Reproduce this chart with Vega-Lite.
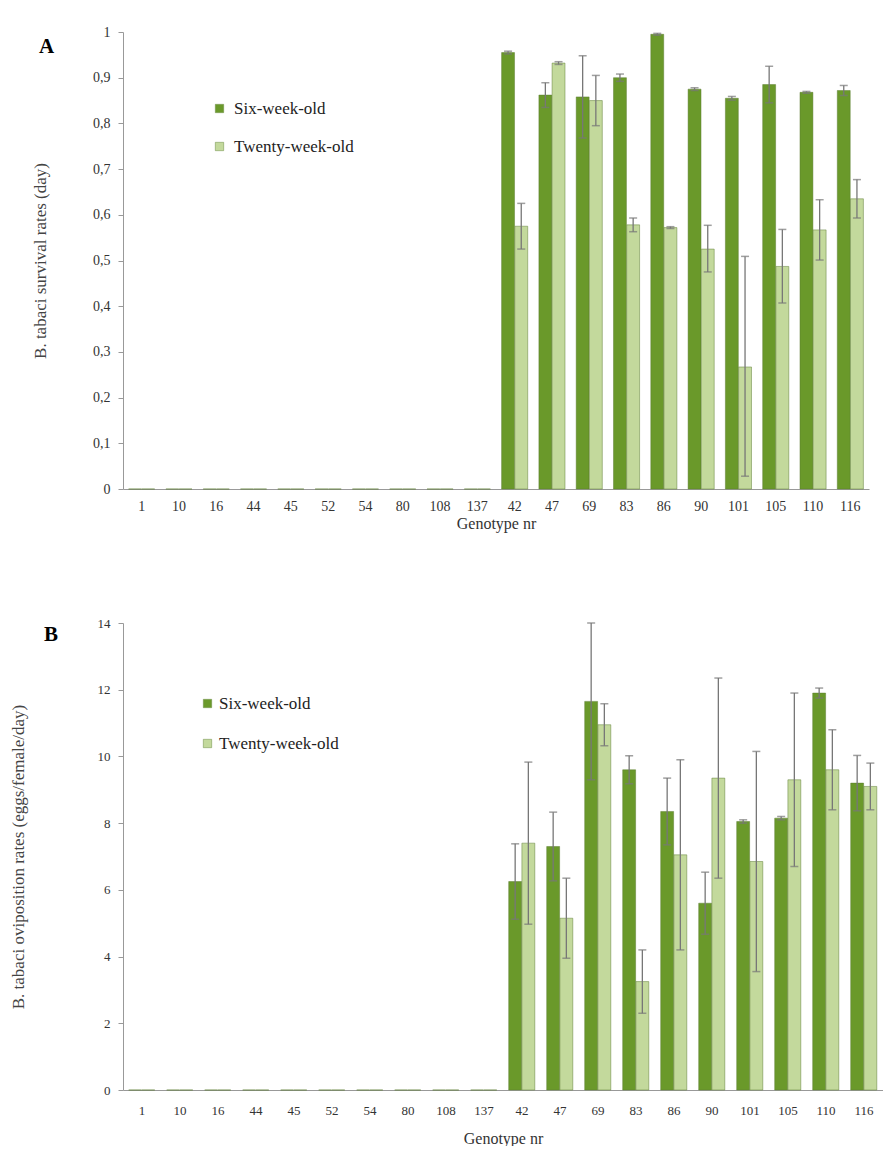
{
  "$schema": "https://vega.github.io/schema/vega-lite/v6.json",
  "padding": {"left": 8, "top": 25, "right": 0, "bottom": 0},
  "background": "white",
  "bounds": "flush",
  "spacing": 134,
  "resolve": {"legend": {"color": "independent"}},
  "datasets": {
    "surv": [
      {"g": "1", "age": "Six-week-old", "v": 0, "lo": null, "hi": null},
      {"g": "1", "age": "Twenty-week-old", "v": 0, "lo": null, "hi": null},
      {"g": "10", "age": "Six-week-old", "v": 0, "lo": null, "hi": null},
      {"g": "10", "age": "Twenty-week-old", "v": 0, "lo": null, "hi": null},
      {"g": "16", "age": "Six-week-old", "v": 0, "lo": null, "hi": null},
      {"g": "16", "age": "Twenty-week-old", "v": 0, "lo": null, "hi": null},
      {"g": "44", "age": "Six-week-old", "v": 0, "lo": null, "hi": null},
      {"g": "44", "age": "Twenty-week-old", "v": 0, "lo": null, "hi": null},
      {"g": "45", "age": "Six-week-old", "v": 0, "lo": null, "hi": null},
      {"g": "45", "age": "Twenty-week-old", "v": 0, "lo": null, "hi": null},
      {"g": "52", "age": "Six-week-old", "v": 0, "lo": null, "hi": null},
      {"g": "52", "age": "Twenty-week-old", "v": 0, "lo": null, "hi": null},
      {"g": "54", "age": "Six-week-old", "v": 0, "lo": null, "hi": null},
      {"g": "54", "age": "Twenty-week-old", "v": 0, "lo": null, "hi": null},
      {"g": "80", "age": "Six-week-old", "v": 0, "lo": null, "hi": null},
      {"g": "80", "age": "Twenty-week-old", "v": 0, "lo": null, "hi": null},
      {"g": "108", "age": "Six-week-old", "v": 0, "lo": null, "hi": null},
      {"g": "108", "age": "Twenty-week-old", "v": 0, "lo": null, "hi": null},
      {"g": "137", "age": "Six-week-old", "v": 0, "lo": null, "hi": null},
      {"g": "137", "age": "Twenty-week-old", "v": 0, "lo": null, "hi": null},
      {"g": "42", "age": "Six-week-old", "v": 0.955, "lo": 0.952, "hi": 0.958},
      {"g": "42", "age": "Twenty-week-old", "v": 0.575, "lo": 0.525, "hi": 0.625},
      {"g": "47", "age": "Six-week-old", "v": 0.862, "lo": 0.835, "hi": 0.889},
      {"g": "47", "age": "Twenty-week-old", "v": 0.932, "lo": 0.929, "hi": 0.935},
      {"g": "69", "age": "Six-week-old", "v": 0.858, "lo": 0.768, "hi": 0.948},
      {"g": "69", "age": "Twenty-week-old", "v": 0.85, "lo": 0.795, "hi": 0.905},
      {"g": "83", "age": "Six-week-old", "v": 0.9, "lo": 0.892, "hi": 0.908},
      {"g": "83", "age": "Twenty-week-old", "v": 0.578, "lo": 0.563, "hi": 0.593},
      {"g": "86", "age": "Six-week-old", "v": 0.995, "lo": 0.993, "hi": 0.997},
      {"g": "86", "age": "Twenty-week-old", "v": 0.572, "lo": 0.570, "hi": 0.574},
      {"g": "90", "age": "Six-week-old", "v": 0.875, "lo": 0.872, "hi": 0.878},
      {"g": "90", "age": "Twenty-week-old", "v": 0.525, "lo": 0.475, "hi": 0.577},
      {"g": "101", "age": "Six-week-old", "v": 0.855, "lo": 0.851, "hi": 0.859},
      {"g": "101", "age": "Twenty-week-old", "v": 0.267, "lo": 0.028, "hi": 0.509},
      {"g": "105", "age": "Six-week-old", "v": 0.885, "lo": 0.845, "hi": 0.925},
      {"g": "105", "age": "Twenty-week-old", "v": 0.487, "lo": 0.407, "hi": 0.568},
      {"g": "110", "age": "Six-week-old", "v": 0.868, "lo": 0.866, "hi": 0.870},
      {"g": "110", "age": "Twenty-week-old", "v": 0.567, "lo": 0.501, "hi": 0.633},
      {"g": "116", "age": "Six-week-old", "v": 0.872, "lo": 0.861, "hi": 0.883},
      {"g": "116", "age": "Twenty-week-old", "v": 0.635, "lo": 0.593, "hi": 0.677}
    ],
    "ovi": [
      {"g": "1", "age": "Six-week-old", "v": 0, "lo": null, "hi": null},
      {"g": "1", "age": "Twenty-week-old", "v": 0, "lo": null, "hi": null},
      {"g": "10", "age": "Six-week-old", "v": 0, "lo": null, "hi": null},
      {"g": "10", "age": "Twenty-week-old", "v": 0, "lo": null, "hi": null},
      {"g": "16", "age": "Six-week-old", "v": 0, "lo": null, "hi": null},
      {"g": "16", "age": "Twenty-week-old", "v": 0, "lo": null, "hi": null},
      {"g": "44", "age": "Six-week-old", "v": 0, "lo": null, "hi": null},
      {"g": "44", "age": "Twenty-week-old", "v": 0, "lo": null, "hi": null},
      {"g": "45", "age": "Six-week-old", "v": 0, "lo": null, "hi": null},
      {"g": "45", "age": "Twenty-week-old", "v": 0, "lo": null, "hi": null},
      {"g": "52", "age": "Six-week-old", "v": 0, "lo": null, "hi": null},
      {"g": "52", "age": "Twenty-week-old", "v": 0, "lo": null, "hi": null},
      {"g": "54", "age": "Six-week-old", "v": 0, "lo": null, "hi": null},
      {"g": "54", "age": "Twenty-week-old", "v": 0, "lo": null, "hi": null},
      {"g": "80", "age": "Six-week-old", "v": 0, "lo": null, "hi": null},
      {"g": "80", "age": "Twenty-week-old", "v": 0, "lo": null, "hi": null},
      {"g": "108", "age": "Six-week-old", "v": 0, "lo": null, "hi": null},
      {"g": "108", "age": "Twenty-week-old", "v": 0, "lo": null, "hi": null},
      {"g": "137", "age": "Six-week-old", "v": 0, "lo": null, "hi": null},
      {"g": "137", "age": "Twenty-week-old", "v": 0, "lo": null, "hi": null},
      {"g": "42", "age": "Six-week-old", "v": 6.25, "lo": 5.12, "hi": 7.38},
      {"g": "42", "age": "Twenty-week-old", "v": 7.4, "lo": 4.97, "hi": 9.83},
      {"g": "47", "age": "Six-week-old", "v": 7.3, "lo": 6.27, "hi": 8.33},
      {"g": "47", "age": "Twenty-week-old", "v": 5.15, "lo": 3.95, "hi": 6.35},
      {"g": "69", "age": "Six-week-old", "v": 11.65, "lo": 9.3, "hi": 14.0},
      {"g": "69", "age": "Twenty-week-old", "v": 10.95, "lo": 10.32, "hi": 11.58},
      {"g": "83", "age": "Six-week-old", "v": 9.6, "lo": 9.18, "hi": 10.02},
      {"g": "83", "age": "Twenty-week-old", "v": 3.25, "lo": 2.3, "hi": 4.2},
      {"g": "86", "age": "Six-week-old", "v": 8.35, "lo": 7.35, "hi": 9.35},
      {"g": "86", "age": "Twenty-week-old", "v": 7.05, "lo": 4.2, "hi": 9.9},
      {"g": "90", "age": "Six-week-old", "v": 5.6, "lo": 4.67, "hi": 6.53},
      {"g": "90", "age": "Twenty-week-old", "v": 9.35, "lo": 6.35, "hi": 12.35},
      {"g": "101", "age": "Six-week-old", "v": 8.05, "lo": 8.0, "hi": 8.1},
      {"g": "101", "age": "Twenty-week-old", "v": 6.85, "lo": 3.55, "hi": 10.15},
      {"g": "105", "age": "Six-week-old", "v": 8.15, "lo": 8.1, "hi": 8.2},
      {"g": "105", "age": "Twenty-week-old", "v": 9.3, "lo": 6.7, "hi": 11.9},
      {"g": "110", "age": "Six-week-old", "v": 11.9, "lo": 11.75, "hi": 12.05},
      {"g": "110", "age": "Twenty-week-old", "v": 9.6, "lo": 8.4, "hi": 10.8},
      {"g": "116", "age": "Six-week-old", "v": 9.2, "lo": 8.37, "hi": 10.03},
      {"g": "116", "age": "Twenty-week-old", "v": 9.1, "lo": 8.4, "hi": 9.8}
    ]
  },
  "vconcat": [
    {
      "width": 746,
      "height": 457,
      "data": {"name": "surv"},
      "title": {"text": "A", "anchor": "start", "frame": "group", "orient": "top", "offset": 0, "dx": -84, "dy": 49, "baseline": "alphabetic", "fontSize": 21, "font": "Liberation Serif", "fontWeight": "bold", "color": "#000"},
      "encoding": {
        "x": {"field": "g", "type": "nominal", "sort": ["1","10","16","44","45","52","54","80","108","137","42","47","69","83","86","90","101","105","110","116"], "scale": {"paddingInner": 0.3, "paddingOuter": 0.15}, "title": "Genotype nr", "axis": {"labelAngle": 0, "ticks": false, "domainColor": "#999", "labelFont": "Liberation Serif", "labelFontSize": 14, "labelColor": "#333", "labelPadding": 10, "titleFont": "Liberation Serif", "titleFontSize": 16, "titleFontWeight": "normal", "titleColor": "#333", "titlePadding": 2}},
        "xOffset": {"field": "age", "type": "nominal", "sort": ["Six-week-old", "Twenty-week-old"], "scale": {"paddingInner": 0.02}}
      },
      "layer": [
        {
          "mark": {"type": "bar", "stroke": "#5a7a30", "strokeWidth": 0.8, "strokeOpacity": 0.6},
          "encoding": {
            "y": {"field": "v", "type": "quantitative", "scale": {"domain": [0, 1], "nice": false}, "title": "B. tabaci survival rates (day)", "axis": {"values": [0,0.1,0.2,0.3,0.4,0.5,0.6,0.7,0.8,0.9,1], "labelExpr": "replace(format(datum.value, '.1~f'), '.', ',')", "grid": false, "domainColor": "#999", "tickColor": "#999", "tickSize": 5, "labelFont": "Liberation Serif", "labelFontSize": 14, "labelColor": "#333", "labelPadding": 8, "titleFont": "Liberation Serif", "titleFontSize": 17, "titleFontWeight": "normal", "titleColor": "#444", "titleX": -74}},
            "color": {"field": "age", "type": "nominal", "scale": {"domain": ["Six-week-old", "Twenty-week-old"], "range": ["#6a992a", "#c3d99c"]}, "legend": {"orient": "none", "legendX": 88, "legendY": 68, "title": null, "labelFont": "Liberation Serif", "labelFontSize": 17, "labelColor": "#222", "symbolType": "square", "symbolSize": 70, "symbolStrokeColor": "#6a8a40", "symbolStrokeWidth": 0.5, "rowPadding": 20, "labelOffset": 6}}
          }
        },
        {
          "mark": {"type": "rule", "color": "#777", "strokeWidth": 1.3},
          "encoding": {"y": {"field": "lo", "type": "quantitative"}, "y2": {"field": "hi"}}
        },
        {
          "mark": {"type": "tick", "color": "#777", "thickness": 1.5, "size": 8},
          "encoding": {"y": {"field": "hi", "type": "quantitative"}}
        },
        {
          "mark": {"type": "tick", "color": "#777", "thickness": 1.5, "size": 8},
          "encoding": {"y": {"field": "lo", "type": "quantitative"}}
        }
      ]
    },
    {
      "width": 760,
      "height": 467,
      "data": {"name": "ovi"},
      "title": {"text": "B", "anchor": "start", "frame": "group", "orient": "top", "offset": 0, "dx": -79, "dy": 45, "baseline": "alphabetic", "fontSize": 21, "font": "Liberation Serif", "fontWeight": "bold", "color": "#000"},
      "encoding": {
        "x": {"field": "g", "type": "nominal", "sort": ["1","10","16","44","45","52","54","80","108","137","42","47","69","83","86","90","101","105","110","116"], "scale": {"paddingInner": 0.3, "paddingOuter": 0.15}, "title": "Genotype nr", "axis": {"labelAngle": 0, "ticks": false, "domainColor": "#999", "labelFont": "Liberation Serif", "labelFontSize": 13, "labelColor": "#333", "labelPadding": 14, "titleFont": "Liberation Serif", "titleFontSize": 16, "titleFontWeight": "normal", "titleColor": "#333", "titlePadding": 13}},
        "xOffset": {"field": "age", "type": "nominal", "sort": ["Six-week-old", "Twenty-week-old"], "scale": {"paddingInner": 0.02}}
      },
      "layer": [
        {
          "mark": {"type": "bar", "stroke": "#5a7a30", "strokeWidth": 0.8, "strokeOpacity": 0.6},
          "encoding": {
            "y": {"field": "v", "type": "quantitative", "scale": {"domain": [0, 14], "nice": false}, "title": "B. tabaci oviposition rates (eggs/female/day)", "axis": {"values": [0,2,4,6,8,10,12,14], "grid": false, "domainColor": "#999", "tickColor": "#999", "tickSize": 5, "labelFont": "Liberation Serif", "labelFontSize": 13, "labelColor": "#333", "labelPadding": 8, "titleFont": "Liberation Serif", "titleFontSize": 17, "titleFontWeight": "normal", "titleColor": "#444", "titleX": -96}},
            "color": {"field": "age", "type": "nominal", "scale": {"domain": ["Six-week-old", "Twenty-week-old"], "range": ["#6a992a", "#c3d99c"]}, "legend": {"orient": "none", "legendX": 76, "legendY": 72, "title": null, "labelFont": "Liberation Serif", "labelFontSize": 17, "labelColor": "#222", "symbolType": "square", "symbolSize": 70, "symbolStrokeColor": "#6a8a40", "symbolStrokeWidth": 0.5, "rowPadding": 22, "labelOffset": 3}}
          }
        },
        {
          "mark": {"type": "rule", "color": "#777", "strokeWidth": 1.3},
          "encoding": {"y": {"field": "lo", "type": "quantitative"}, "y2": {"field": "hi"}}
        },
        {
          "mark": {"type": "tick", "color": "#777", "thickness": 1.5, "size": 8},
          "encoding": {"y": {"field": "hi", "type": "quantitative"}}
        },
        {
          "mark": {"type": "tick", "color": "#777", "thickness": 1.5, "size": 8},
          "encoding": {"y": {"field": "lo", "type": "quantitative"}}
        }
      ]
    }
  ],
  "config": {"view": {"stroke": null}, "font": "Liberation Serif"}
}
